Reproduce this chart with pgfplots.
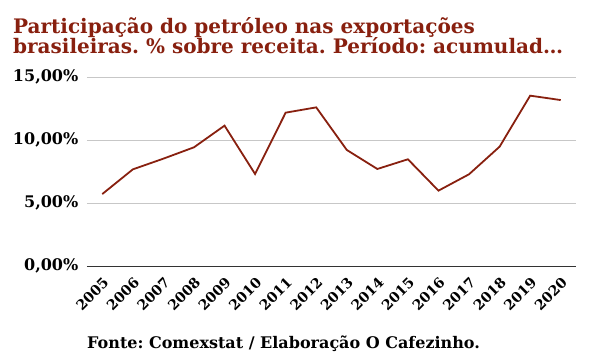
\documentclass[border=0pt]{standalone}
\usepackage{pgfplots}
\pgfplotsset{compat=1.18}
\usepackage{fontspec}
\setmainfont{DejaVu Serif}
\frenchspacing
\definecolor{oil}{RGB}{136,32,15}
\begin{document}
\begin{tikzpicture}[x=1pt,y=1pt]
\useasboundingbox (-87,-93) rectangle (504,266);
\begin{axis}[
  at={(0,0)}, anchor=south west,
  scale only axis, width=489pt, height=189pt,
  xmin=-0.5, xmax=15.5, ymin=0, ymax=15,
  axis x line*=bottom, axis y line*=left,
  y axis line style={draw=none},
  x axis line style={draw=black!80, line width=0.9pt, -},
  xtick={0,...,15},
  xticklabels={2005,2006,2007,2008,2009,2010,2011,2012,2013,2014,2015,2016,2017,2018,2019,2020},
  ytick={0,5,10,15},
  yticklabels={0{,}00\%,5{,}00\%,10{,}00\%,15{,}00\%},
  major tick length=0pt,
  ymajorgrids, grid style={draw=black!22, line width=0.7pt},
  x tick label style={font=\bfseries\fontsize{14}{14}\selectfont, xshift=0pt, yshift=-10pt, rotate=45, anchor=north east, inner sep=0pt},
  y tick label style={font=\bfseries\fontsize{16}{16}\selectfont, anchor=east, inner sep=0pt, xshift=-8.5pt},
  clip=false,
]
\addplot[color=oil, line width=1.8pt, mark=none] coordinates {
(0,5.71) (1,7.67) (2,8.52) (3,9.42) (4,11.14) (5,7.30) (6,12.17) (7,12.59)
(8,9.21) (9,7.70) (10,8.47) (11,5.98) (12,7.28) (13,9.47) (14,13.52) (15,13.17)
};
\end{axis}
\node[anchor=base west, inner sep=0pt, text=oil, font=\bfseries\fontsize{20}{22}\selectfont] at (-74,232) {Participação do petróleo nas exportações};
\node[anchor=base west, inner sep=0pt, text=oil, font=\bfseries\fontsize{20}{22}\selectfont] at (-74,212) {brasileiras. \% sobre receita. Período: acumulad…};
\node[anchor=base west, inner sep=0pt, font=\bfseries\fontsize{16}{18}\selectfont] at (0,-82) {Fonte: Comexstat / Elaboração O Cafezinho.};
\end{tikzpicture}
\end{document}
